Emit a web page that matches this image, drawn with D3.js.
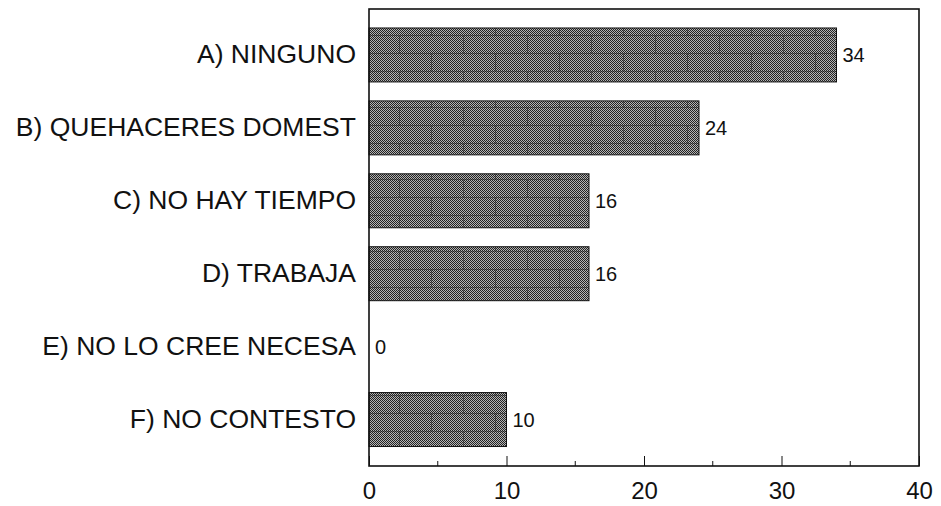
<!DOCTYPE html>
<html>
<head>
<meta charset="utf-8">
<script src="https://cdn.jsdelivr.net/npm/d3@7"></script>
<style>
	body { margin: 0 ; background: #fff ; }
	svg { display: block ; font-family: "Liberation Sans", Arial, sans-serif ; }
</style>
</head>
<body>
<svg id="chart" width="941" height="506"></svg>
<script>

// data
const categories = [ "A) NINGUNO", "B) QUEHACERES DOMEST", "C) NO HAY TIEMPO", "D) TRABAJA", "E) NO LO CREE NECESA", "F) NO CONTESTO" ] ;
const values = [ 34, 24, 16, 16, 0, 10 ] ;
const xTicks = [ 0, 10, 20, 30, 40 ] ;
const xMinorTicks = [ 5, 15, 25, 35 ] ;

const svg = d3.select( "#chart" ) ;

// plot frame
const plotLeft = 369, plotRight = 919, plotTop = 9, plotBottom = 466 ;

const x = d3.scaleLinear()
	.domain( [0, 40] )
	.range( [plotLeft, plotRight] ) ;

const y = d3.scaleBand()
	.domain( categories )
	.range( [18.5, 456] )
	.paddingInner( 0.26 )
	.paddingOuter( 0.13 ) ;

/*
	dithered grey fill with a faint brick grid,
	like the old printer texture of the scan
*/
const defs = svg.append( "defs" ) ;
const checker = defs.append( "pattern" )
	.attr( "id", "checker" )
	.attr( "patternUnits", "userSpaceOnUse" )
	.attr( "width", 2 ).attr( "height", 2 ) ;
checker.append( "rect" ).attr( "width", 2 ).attr( "height", 2 ).attr( "fill", "#b4b4b4" ) ;
checker.append( "rect" ).attr( "width", 1 ).attr( "height", 1 ).attr( "fill", "#222" ) ;
checker.append( "rect" ).attr( "x", 1 ).attr( "y", 1 ).attr( "width", 1 ).attr( "height", 1 ).attr( "fill", "#222" ) ;

const brick = defs.append( "pattern" )
	.attr( "id", "brick" )
	.attr( "patternUnits", "userSpaceOnUse" )
	.attr( "width", 64 ).attr( "height", 36 ) ;
brick.append( "rect" ).attr( "width", 64 ).attr( "height", 36 ).attr( "fill", "url(#checker)" ) ;
const brickLines = brick.append( "g" )
	.attr( "stroke", "#1a1a1a" )
	.attr( "stroke-opacity", 0.45 )
	.attr( "stroke-width", 1 ) ;
brickLines.append( "line" ).attr( "x1", 0 ).attr( "x2", 64 ).attr( "y1", 17.5 ).attr( "y2", 17.5 ) ;
brickLines.append( "line" ).attr( "x1", 0 ).attr( "x2", 64 ).attr( "y1", 35.5 ).attr( "y2", 35.5 ) ;
brickLines.append( "line" ).attr( "x1", 15.5 ).attr( "x2", 15.5 ).attr( "y1", 0 ).attr( "y2", 18 ) ;
brickLines.append( "line" ).attr( "x1", 47.5 ).attr( "x2", 47.5 ).attr( "y1", 18 ).attr( "y2", 36 ) ;

// bars
svg.append( "g" )
	.selectAll( "rect" )
	.data( values.map( (v, i) => ({ cat: categories[i], val: v }) ).filter( d => d.val > 0 ) )
	.enter().append( "rect" )
		.attr( "x", x(0) )
		.attr( "y", d => y(d.cat) )
		.attr( "width", d => x(d.val) - x(0) )
		.attr( "height", y.bandwidth() )
		.attr( "fill", "url(#brick)" )
		.attr( "stroke", "#111" )
		.attr( "stroke-width", 1 ) ;

// value labels
svg.append( "g" )
	.selectAll( "text" )
	.data( values )
	.enter().append( "text" )
		.attr( "x", d => x(d) + 6 )
		.attr( "y", (d, i) => y(categories[i]) + y.bandwidth()/2 )
		.attr( "dy", "0.35em" )
		.style( "font-size", "20px" )
		.attr( "fill", "#111" )
		.text( d => d ) ;

// frame
svg.append( "rect" )
	.attr( "x", plotLeft ).attr( "y", plotTop )
	.attr( "width", plotRight - plotLeft ).attr( "height", plotBottom - plotTop )
	.attr( "fill", "none" )
	.attr( "stroke", "#111" )
	.attr( "stroke-width", 1.6 ) ;

// category axis, no ticks
const yAxis = svg.append( "g" )
	.attr( "transform", "translate(" + plotLeft + ",0)" )
	.call( d3.axisLeft( y ).tickSize( 0 ).tickPadding( 13 ) ) ;
yAxis.select( ".domain" ).remove() ;
yAxis.selectAll( "text" )
	.style( "font-size", "26.5px" )
	.attr( "fill", "#111" ) ;
yAxis.attr( "font-family", null ) ;

// value axis, ticks point into the plot
const xAxis = svg.append( "g" )
	.attr( "transform", "translate(0," + plotBottom + ")" )
	.call( d3.axisBottom( x ).tickValues( xTicks ).tickSize( -10 ).tickPadding( 16 ).tickFormat( d3.format( "d" ) ) ) ;
xAxis.select( ".domain" ).remove() ;
xAxis.selectAll( "line" ).attr( "stroke", "#111" ) ;
xAxis.selectAll( "text" )
	.style( "font-size", "24px" )
	.attr( "fill", "#111" ) ;
xAxis.attr( "font-family", null ) ;

svg.append( "g" )
	.selectAll( "line" )
	.data( xMinorTicks )
	.enter().append( "line" )
		.attr( "x1", d => x(d) ).attr( "x2", d => x(d) )
		.attr( "y1", plotBottom ).attr( "y2", plotBottom - 5 )
		.attr( "stroke", "#111" ) ;

</script>
</body>
</html>
